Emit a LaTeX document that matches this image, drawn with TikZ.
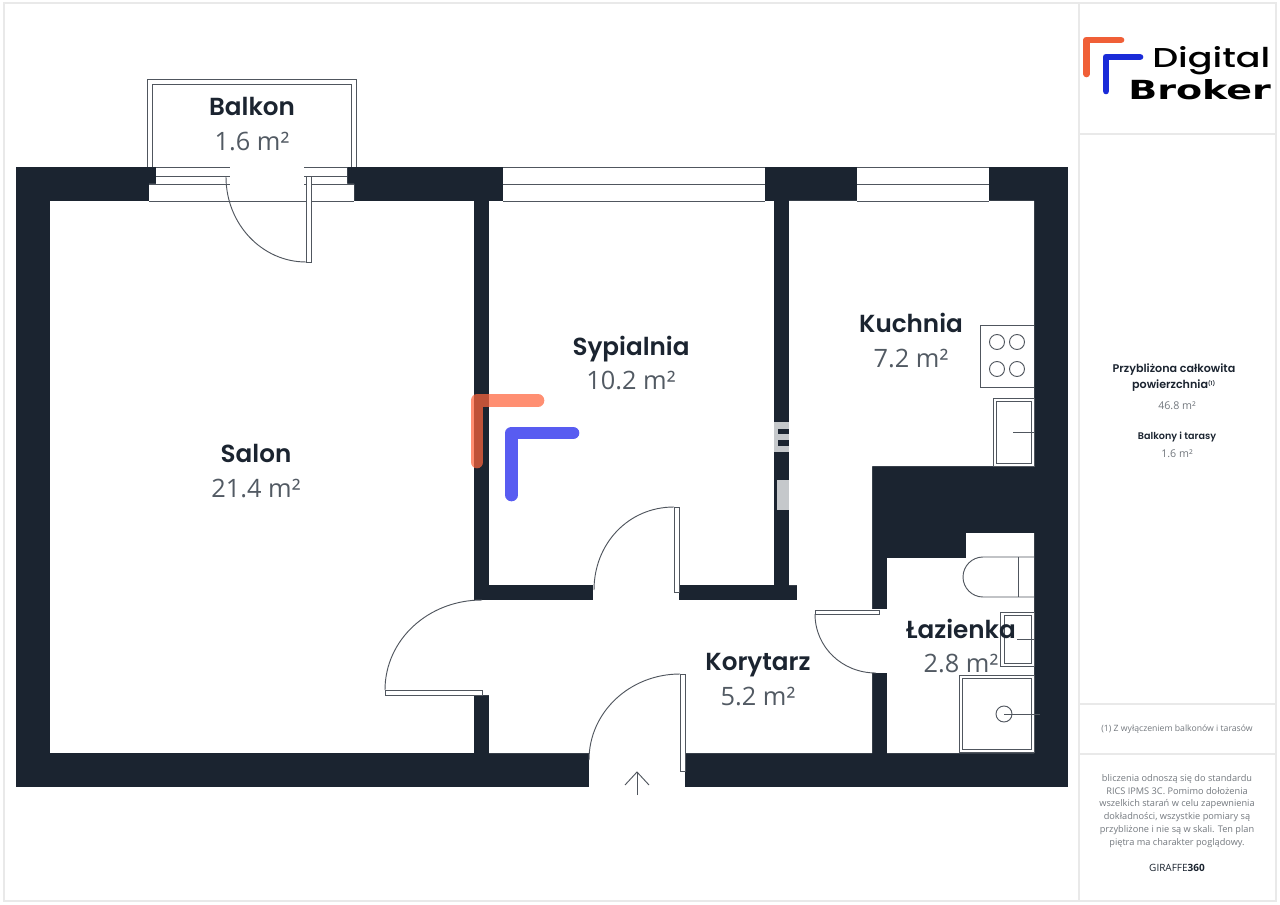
\documentclass[tikz,border=0pt]{standalone}
\usepackage{fontspec}
\setmainfont{Open Sans}
\newfontfamily\hd{Poppins SemiBold}
\newfontfamily\hdp{Poppins Medium}
\newfontfamily\logob{DejaVu Sans Bold}
\definecolor{wall}{HTML}{1B2430}
\definecolor{lin}{HTML}{50565E}
\definecolor{val}{HTML}{525A63}
\definecolor{frame}{HTML}{E9E9E9}
\definecolor{sidegray}{HTML}{74797F}
\tikzset{
  x=0.75pt,y=-0.75pt,
  thin line/.style={draw=lin,line width=0.7pt},
  wall fill/.style={fill=wall},
  room fill/.style={fill=white},
  roomname/.style={font=\hd\fontsize{18.5}{20}\selectfont,text=wall,inner sep=0pt,anchor=base},
  roomarea/.style={font=\fontsize{19}{20}\selectfont,text=val,inner sep=0pt,anchor=base},
  sidehead/.style={font=\hd\fontsize{8.35}{12}\selectfont,text=wall,inner sep=0pt,align=center},
  sidehead small/.style={font=\hd\fontsize{7.2}{10}\selectfont,text=wall,inner sep=0pt},
  sideval/.style={font=\fontsize{8}{10}\selectfont,text=sidegray,inner sep=0pt},
  note/.style={font=\fontsize{6.9}{9.6}\selectfont,text=sidegray,inner sep=0pt,align=center},
  foot note/.style={font=\fontsize{6.5}{9}\selectfont,text=sidegray,inner sep=0pt},
}
\begin{document}
\begin{tikzpicture}
\useasboundingbox (0,0) rectangle (1280,905);
\fill[white] (0,0) rectangle (1280,905);
% page frame
\draw[frame,line width=1.2pt] (4,3) rectangle (1276,901);
\draw[frame,line width=1.2pt] (1079,3) -- (1079,901);
\draw[frame,line width=1.2pt] (1079,134) -- (1276,134);
\draw[frame,line width=1.2pt] (1079,704) -- (1276,704);
\draw[frame,line width=1.2pt] (1079,754) -- (1276,754);
% balcony
\draw[thin line] (147,167) -- (147,79) -- (356,79) -- (356,167);
\draw[thin line] (152,167) -- (152,84) -- (351,84) -- (351,167);
% walls
\fill[wall fill] (16,167) rectangle (1068,787);
% rooms
\fill[room fill] (50,201) rectangle (474,753);
\fill[room fill] (489,201) rectangle (774,585);
\fill[room fill] (789,201) -- (1034,201) -- (1034,466) -- (872,466) -- (872,753) -- (489,753) -- (489,695) -- (474,695) -- (474,600) -- (797,600) -- (797,585) -- (789,585) -- cycle;
\fill[room fill] (593,584) rectangle (679,601);
\fill[room fill] (589,752) rectangle (685,788);
\fill[room fill] (871,609) rectangle (888,673);
\fill[room fill] (887,558) -- (966,558) -- (966,533) -- (1034,533) -- (1034,753) -- (887,753) -- cycle;
% balcony opening
\fill[room fill] (156,166) -- (347,166) -- (347,184) -- (354,184) -- (354,202) -- (149,202) -- (149,184) -- (156,184) -- cycle;
% windows
\fill[room fill] (503,166) rectangle (765,202);
\fill[room fill] (857,166) rectangle (989,202);
\foreach \yy in {167,184,201} {
  \draw[thin line] (503,\yy) -- (765,\yy);
  \draw[thin line] (857,\yy) -- (989,\yy);
}
% balcony door lines
\draw[thin line] (156,167) -- (230,167);
\draw[thin line] (156,176) -- (230,176);
\draw[thin line] (149,184) -- (230,184);
\draw[thin line] (304,167) -- (347,167);
\draw[thin line] (304,176) -- (347,176);
\draw[thin line] (304,184) -- (354,184);
\draw[thin line] (149,201) -- (354,201);
\fill[white] (306,176) rectangle (311,262);
\draw[thin line] (306,176) rectangle (311,262);
\draw[thin line] (226,177) .. controls (226,224) and (262,262) .. (306,262);
% salon door
\draw[thin line] (385,690) rectangle (482,695);
\draw[thin line] (385,690) .. controls (385,640) and (428,600) .. (482,600);
% bedroom door
\draw[thin line] (674,507) rectangle (679,592);
\draw[thin line] (594,590) .. controls (594,544) and (628,507) .. (674,507);
% entry door
\draw[thin line] (680,674) rectangle (685,771);
\draw[thin line] (589,760) .. controls (589,712) and (630,674) .. (680,674);
\coordinate (arrowtail) at (637,795);
\coordinate (arrowtip) at (637,772);
\draw[thin line] (arrowtail) -- (arrowtip);
\draw[thin line] (625,785) -- (arrowtip) -- (649,785);
% bathroom door
\draw[thin line] (815,610) rectangle (879,614);
\draw[thin line] (815,614) .. controls (815,647) and (842,673) .. (876,673);
% stove
\draw[thin line] (1034,325) -- (980,325) -- (980,387) -- (1034,387);
\foreach \cx in {997,1017} \foreach \cy in {342,369} {
  \draw[thin line] (\cx,\cy) circle[radius=7.5];
}
% kitchen sink
\draw[thin line] (993,398) rectangle (1034,466);
\draw[thin line] (996,401) rectangle (1031,463);
\draw[thin line] (1013,432) -- (1034,432);
% toilet
\draw[thin line] (1034,557) -- (983,557) .. controls (972,557) and (963,566) .. (963,577) .. controls (963,588) and (972,597) .. (983,597) -- (1034,597);
\draw[thin line] (1018,557) -- (1018,597);
% bathroom sink
\draw[thin line] (1000,612) rectangle (1034,666);
\draw[thin line] (1004,615) rectangle (1031,663);
\draw[thin line] (1017,639) -- (1034,639);
% shower
\draw[thin line] (959,675) rectangle (1034,752);
\draw[thin line] (962,678) rectangle (1031,749);
\draw[thin line] (1004,714) circle[radius=8];
\draw[thin line] (1004,714) -- (1040,714);
% watermark
\fill[white,opacity=0.75] (774,422) rectangle (789,452);
\fill[wall] (778,429) rectangle (789,434);
\fill[wall] (778,440) rectangle (789,446);
\fill[white,opacity=0.75] (777,480) rectangle (789,510);
\draw[line width=9.5pt,line cap=round,line join=round,draw opacity=0.72,color={rgb,255:red,255;green,100;blue,60}] (477,462) -- (477,400.5) -- (538,400.5);
\draw[line width=9.5pt,line cap=round,line join=round,draw opacity=0.9,color={rgb,255:red,70;green,75;blue,240}] (511.5,495) -- (511.5,433) -- (573,433);
% labels
\node[roomname] (balkonN) at (252,116) {Balkon};
\node[roomarea] (balkonA) at (252,151) {1.6 m²};
\node[roomname] (salonN) at (256,462) {Salon};
\node[roomarea] (salonA) at (256,497) {21.4 m²};
\node[roomname] (sypN) at (631,355) {Sypialnia};
\node[roomarea] (sypA) at (631,389) {10.2 m²};
\node[roomname] (kuchN) at (911,333) {Kuchnia};
\node[roomarea] (kuchA) at (911,367) {7.2 m²};
\node[roomname] (lazN) at (961,638) {Łazienka};
\node[roomarea] (lazA) at (961,672) {2.8 m²};
\node[roomname] (korN) at (758,670) {Korytarz};
\node[roomarea] (korA) at (758,705) {5.2 m²};
% side panel
\node[sidehead] (total) at (1174,378) {Przybliżona całkowita\\powierzchnia\textsuperscript{\fontsize{4}{4}\selectfont(1)}};
\node[sideval] (totalv) at (1177,406) {46.8 m²};
\node[sidehead small] (balc) at (1177,437) {Balkony i tarasy};
\node[sideval] (balcv) at (1177,454) {1.6 m²};
\node[foot note] (foot) at (1177,729) {(1) Z wyłączeniem balkonów i tarasów};
\node[note] (para) at (1177,811) {bliczenia odnoszą się do standardu\\RICS IPMS 3C. Pomimo dołożenia\\wszelkich starań w celu zapewnienia\\dokładności, wszystkie pomiary są\\przybliżone i nie są w skali. Ten plan\\piętra ma charakter poglądowy.};
\node[inner sep=0pt,text=wall,font=\fontsize{7.5}{9}\selectfont] (gir) at (1177,868) {GIRAFFE\textbf{360}};
% logo
\draw[line width=5pt,line cap=round,line join=round,color={rgb,255:red,240;green,95;blue,55}] (1086.5,74) -- (1086.5,40) -- (1121,40);
\draw[line width=5pt,line cap=round,line join=round,color={rgb,255:red,26;green,43;blue,216}] (1106,91) -- (1106,57) -- (1140,57);
\node[inner sep=0pt,anchor=base west,text=black] (logo1) at (1152,68) {\resizebox{88.5pt}{15.75pt}{\hdp Digital}};
\node[inner sep=0pt,anchor=base west,text=black] (logo2) at (1128,100) {\resizebox{107pt}{15pt}{\logob Broker}};
\end{tikzpicture}
\end{document}
